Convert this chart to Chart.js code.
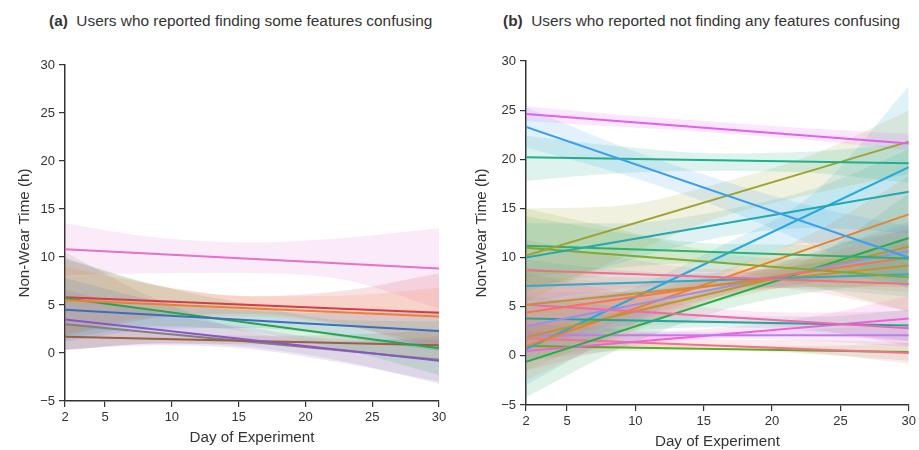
<!DOCTYPE html>
<html>
<head>
<meta charset="utf-8">
<script src="https://cdn.jsdelivr.net/npm/chart.js@4.4.1/dist/chart.umd.min.js"></script>
<style>
  body { margin: 0; background: #fff; font-family: "Liberation Sans", Arial, sans-serif; }
  #wrap { position: relative; width: 919px; height: 450px; overflow: hidden; }
  canvas { position: absolute; top: 0; }
  .ttl { position: absolute; top: 12px; font-size: 15.4px; color: #333; white-space: nowrap; }
</style>
</head>
<body>
<div id="wrap">
  <div class="ttl" style="left:49px"><b>(a)</b>&nbsp; Users who reported finding some features confusing</div>
  <div class="ttl" style="left:503px"><b>(b)</b>&nbsp; Users who reported not finding any features confusing</div>
  <canvas id="chartA" width="460" height="450" style="left:0"></canvas>
  <canvas id="chartB" width="459" height="450" style="left:460px"></canvas>
</div>
<script>
// fitted lines run from first to last day, bands are sampled at bandDays
const lineDays = [2, 30];
const bandDays = [2, 9, 16, 23, 30];
const xTicks = [2, 5, 10, 15, 20, 25, 30];

// (a) users who found some features confusing
const aStart = [4.5, 5.5, 5.7, 5.8, 3.5, 1.7, 10.8, 3.0];
const aEnd   = [2.3, 3.8, 0.5, 4.2, -0.8, 0.8, 8.8, -0.7];
const aLow = [
  [1.2, 2.5, 2.6, 1.6, 0.2],
  [2.0, 3.8, 3.8, 2.8, 0.8],
  [1.5, 2.8, 2.2, 0.3, -2.3],
  [1.8, 3.7, 4.1, 2.9, 0.3],
  [0.4, 0.8, 0.4, -1.1, -3.0],
  [0.3, 1.0, 0.9, 0.2, -0.8],
  [8.1, 8.3, 8.3, 7.6, 4.6],
  [0.3, 1.0, 0.6, -0.9, -3.2]
];
const aHigh = [
  [7.8, 5.4, 4.4, 4.2, 4.4],
  [9.0, 7.0, 5.9, 6.0, 6.8],
  [9.9, 7.0, 5.0, 3.4, 3.3],
  [9.8, 7.0, 5.9, 6.5, 8.3],
  [6.6, 4.2, 2.6, 1.4, 1.4],
  [3.1, 2.2, 1.8, 1.9, 2.4],
  [13.5, 12.0, 11.5, 12.0, 13.0],
  [10.5, 5.5, 2.2, 1.2, 1.8]
];
const aColors = ['#3a6fbf', '#f07f32', '#22a84a', '#d83b48', '#8a55c8', '#9a6040', '#e770c8', '#808080'];

// (b) users who did not find any features confusing
const bStart = [24.6, 23.3, 20.2, 10.2, 10.0, 11.2, 11.0, 8.7, 7.1, 5.2, 4.4,
                5.2, 3.0, 3.8, 1.9, 1.0, 0.7, -0.6, 2.1, 0.5, 1.8, 1.0];
const bEnd   = [21.6, 10.0, 19.6, 21.8, 16.7, 9.9, 8.0, 7.3, 8.3, 9.2, 10.0,
                2.8, 10.7, 3.1, 11.1, 14.4, 19.2, 12.0, 2.1, 3.8, 0.3, 0.4];
const bLow = [
  [23.9, 23.3, 22.7, 21.9, 20.9],
  [21.2, 18.5, 15.2, 11.2, 6.8],
  [17.8, 18.6, 18.8, 18.6, 17.6],
  [5.5, 10.0, 14.0, 16.5, 18.5],
  [6.5, 9.5, 12.0, 13.0, 12.5],
  [8.0, 9.0, 9.5, 8.8, 7.0],
  [7.0, 8.3, 8.5, 7.0, 4.5],
  [5.5, 6.8, 7.2, 6.5, 4.5],
  [4.5, 6.0, 7.0, 6.8, 6.0],
  [1.5, 4.0, 6.3, 7.0, 6.5],
  [0.5, 3.5, 6.0, 7.0, 7.0],
  [2.0, 3.0, 3.3, 2.7, 1.0],
  [-0.5, 3.0, 6.0, 7.5, 8.0],
  [1.5, 2.5, 2.9, 2.5, 1.5],
  [-1.5, 2.5, 5.5, 7.5, 8.5],
  [-2.5, 2.0, 6.0, 9.0, 10.5],
  [-3.0, 2.5, 8.0, 11.5, 11.0],
  [-4.2, 0.8, 4.5, 6.5, 7.5],
  [0.9, 1.5, 1.8, 1.5, 0.9],
  [-1.5, 0.8, 1.8, 2.0, 1.5],
  [-0.3, 0.8, 0.9, 0.3, -0.8],
  [-0.5, 0.5, 0.6, 0.2, -0.5]
];
const bHigh = [
  [25.4, 24.5, 23.8, 23.1, 22.6],
  [25.3, 21.3, 18.0, 15.2, 13.2],
  [22.4, 21.3, 20.6, 20.8, 21.6],
  [15.0, 15.3, 17.5, 20.5, 25.0],
  [13.5, 13.5, 14.7, 17.0, 21.0],
  [14.2, 12.5, 11.4, 11.3, 12.8],
  [15.0, 12.8, 10.5, 9.8, 11.5],
  [11.8, 10.0, 8.8, 9.0, 10.0],
  [9.8, 8.7, 8.4, 9.4, 10.6],
  [9.0, 8.0, 8.0, 9.5, 12.0],
  [8.3, 7.5, 8.0, 10.0, 13.0],
  [8.4, 6.5, 4.8, 4.4, 4.6],
  [6.5, 6.5, 7.8, 10.5, 13.4],
  [6.1, 5.0, 4.0, 4.0, 4.7],
  [5.3, 6.5, 7.5, 10.5, 13.7],
  [4.5, 6.0, 8.5, 12.5, 18.3],
  [4.4, 6.5, 11.0, 16.5, 27.4],
  [3.0, 4.5, 6.8, 10.0, 16.5],
  [3.3, 2.7, 2.4, 2.7, 3.3],
  [2.5, 2.3, 2.8, 4.0, 6.1],
  [3.9, 2.7, 1.7, 1.6, 1.4],
  [2.5, 1.6, 1.1, 1.0, 1.3]
];
const bColors = ['#e35ff0', '#3a9fec', '#1fb08a', '#9ea231', '#22a8b0', '#2fb06c', '#83a831', '#f66c88',
                 '#30aac8', '#cc8f32', '#f7754f', '#f665b0', '#9490f6', '#1fa898', '#b59a31', '#ee8028',
                 '#28a8dc', '#20b050', '#c17af4', '#f55fd5', '#f57090', '#62a820'];

const FONT = '"Liberation Sans", Arial, sans-serif';
const INK = '#333';

function rgba(hex, a) {
  const n = parseInt(hex.slice(1), 16);
  return `rgba(${n >> 16}, ${(n >> 8) & 255}, ${n & 255}, ${a})`;
}

function buildDatasets(starts, ends, lows, highs, colors) {
  const lines = [], bands = [];
  const nLines = starts.length;
  starts.forEach((s, i) => {
    lines.push({
      data: [{ x: lineDays[0], y: s }, { x: lineDays[1], y: ends[i] }],
      borderColor: colors[i], borderWidth: 2, pointRadius: 0, fill: false, order: 0
    });
  });
  lows.forEach((lo, i) => {
    const lowIndex = nLines + bands.length;
    bands.push({
      data: bandDays.map((d, j) => ({ x: d, y: lo[j] })),
      borderColor: 'rgba(0,0,0,0)', borderWidth: 0, pointRadius: 0, fill: false,
      cubicInterpolationMode: 'monotone', order: 1
    });
    bands.push({
      data: bandDays.map((d, j) => ({ x: d, y: highs[i][j] })),
      borderColor: 'rgba(0,0,0,0)', borderWidth: 0, pointRadius: 0,
      fill: { target: lowIndex }, backgroundColor: rgba(colors[i], 0.15),
      cubicInterpolationMode: 'monotone', order: 1
    });
  });
  return lines.concat(bands);
}

function makeChart(id, datasets, g) {
  new Chart(document.getElementById(id), {
    type: 'line',
    data: { datasets },
    options: {
      responsive: false,
      animation: false,
      layout: { padding: { left: 0, right: g.padRight, top: g.padTop, bottom: 0 } },
      plugins: { legend: { display: false }, tooltip: { enabled: false } },
      scales: {
        x: {
          type: 'linear', min: 2, max: 30,
          afterBuildTicks: s => { s.ticks = xTicks.map(v => ({ value: v })); },
          afterFit: s => { s.height = g.xHeight; },
          grid: { drawOnChartArea: false, tickLength: 6, color: INK, lineWidth: 1.2 },
          border: { color: INK, width: 1.5 },
          ticks: { color: INK, font: { size: 13, family: FONT }, padding: 3, maxRotation: 0 },
          title: { display: true, text: 'Day of Experiment', color: INK,
                   font: { size: 15.2, family: FONT }, padding: { top: 0, bottom: g.xTitlePad } }
        },
        y: {
          min: -5, max: 30,
          afterFit: s => { s.width = g.yWidth; },
          grid: { drawOnChartArea: false, tickLength: 6, color: INK, lineWidth: 1.2 },
          border: { color: INK, width: 1.5 },
          ticks: { stepSize: 5, color: INK, font: { size: 13, family: FONT }, padding: 4,
                   callback: v => v < 0 ? '\u2212' + Math.abs(v) : String(v) },
          title: { display: true, text: 'Non-Wear Time (h)', color: INK,
                   font: { size: 15.2, family: FONT }, padding: { top: g.yTitlePad, bottom: 0 } }
        }
      }
    }
  });
}

makeChart('chartA', buildDatasets(aStart, aEnd, aLow, aHigh, aColors),
  { padRight: 21, padTop: 65, xHeight: 49, yWidth: 65, xTitlePad: 3, yTitlePad: 16 });
makeChart('chartB', buildDatasets(bStart, bEnd, bLow, bHigh, bColors),
  { padRight: 9, padTop: 61, xHeight: 45, yWidth: 66, xTitlePad: -1, yTitlePad: 13 });
</script>
</body>
</html>
